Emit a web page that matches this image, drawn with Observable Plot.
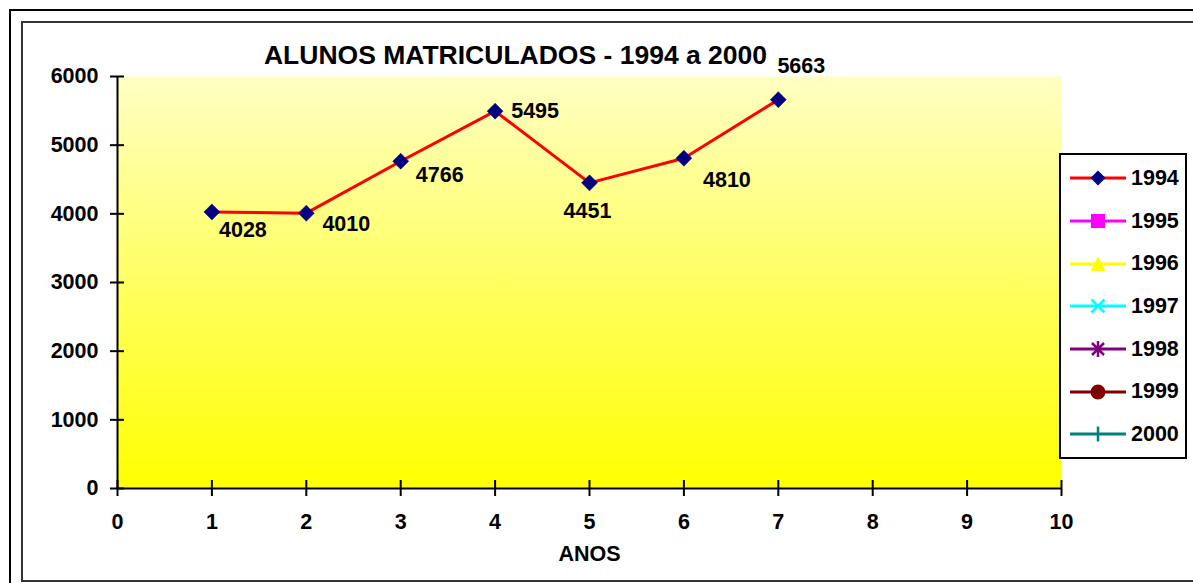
<!DOCTYPE html>
<html><head><meta charset="utf-8">
<script src="https://cdn.jsdelivr.net/npm/d3@7"></script>
<script src="https://cdn.jsdelivr.net/npm/@observablehq/plot@0.6"></script>
<style>
body{margin:0;background:#fff;font-family:"Liberation Sans",Arial,sans-serif;}
#wrap{position:relative;width:1193px;height:583px;overflow:hidden;background:#fff;}
#wrap svg.chart{position:absolute;left:0;top:0;}
.frame-outer{position:absolute;left:9px;top:9px;width:1300px;height:700px;border:2px solid #000;box-sizing:border-box;pointer-events:none;}
.frame-inner{position:absolute;left:21px;top:21px;width:1300px;height:561px;border:2px solid #333;box-sizing:border-box;pointer-events:none;}
.legend{position:absolute;left:1059px;top:153px;width:128px;height:306px;border:2px solid #000;box-sizing:border-box;background:#fff;padding-top:2px;}
.legend .row{height:42.7px;display:flex;align-items:center;padding-left:9px;}
.legend .row span{font-weight:bold;font-size:21.5px;margin-left:5px;color:#000;}
</style></head><body>
<div id="wrap"></div>
<script>
// ---- data ----
const title = "ALUNOS MATRICULADOS - 1994 a 2000";
const xLabel = "ANOS";
const anos = [1, 2, 3, 4, 5, 6, 7];
const matriculados1994 = [4028, 4010, 4766, 5495, 4451, 4810, 5663];
const seriesNames = ["1994", "1995", "1996", "1997", "1998", "1999", "2000"];
const xTicks = [0, 1, 2, 3, 4, 5, 6, 7, 8, 9, 10];
const yTicks = [0, 1000, 2000, 3000, 4000, 5000, 6000];

// ---- layout config (label nudges, px) ----
const labelNudges = [[31, 18], [40, 11], [39, 14], [40, 0], [-2, 28], [43, 22], [23, -34]];

const rows = anos.map((a, i) => ({ano: a, valor: matriculados1994[i]}));
const font = {fontSize: 21.5, fontWeight: "bold", fill: "#000"};

const chart = Plot.plot({
  width: 1193,
  height: 583,
  marginLeft: 117,
  marginRight: 132,
  marginTop: 76,
  marginBottom: 95,
  style: {background: "transparent", fontFamily: "'Liberation Sans', Arial, sans-serif", color: "#000", overflow: "visible"},
  x: {domain: [0, 10]},
  y: {domain: [0, 6000]},
  marks: [
    Plot.frame({fill: "url(#bggrad)", stroke: null}),
    Plot.ruleX([0], {stroke: "#000", strokeWidth: 2}),
    Plot.ruleY([0], {stroke: "#000", strokeWidth: 2}),
    Plot.axisY(yTicks, {tickSize: 14, dx: 7, tickPadding: 12, strokeWidth: 2, fontSize: 21.5, fontWeight: "bold", tickFormat: d => String(d), label: null}),
    Plot.axisX(xTicks, {tickSize: 16, dy: -8, tickPadding: 17, strokeWidth: 2, fontSize: 21.5, fontWeight: "bold", tickFormat: d => String(d), label: null}),
    Plot.line(rows, {x: "ano", y: "valor", stroke: "#ff0000", strokeWidth: 3}),
    Plot.dot(rows, {x: "ano", y: "valor", symbol: "diamond2", r: 7.2, fill: "#000080", stroke: "#000080", strokeWidth: 0.5}),
    ...rows.map((d, i) => Plot.text([d], {x: "ano", y: "valor", text: d => String(d.valor), dx: labelNudges[i][0], dy: labelNudges[i][1], ...font})),
    Plot.text([title], {frameAnchor: "top", dx: -74, dy: -31, fontSize: 26.5, fontWeight: "bold", fill: "#000"}),
    Plot.text([xLabel], {frameAnchor: "bottom", dy: 72, ...font})
  ]
});
chart.classList.add("chart");
chart.insertAdjacentHTML("afterbegin",
  '<defs><linearGradient id="bggrad" x1="0" y1="0" x2="0" y2="1">' +
  '<stop offset="0" stop-color="#ffffc4"/><stop offset="1" stop-color="#ffff00"/></linearGradient></defs>');

const wrap = document.getElementById("wrap");
wrap.appendChild(chart);

// ---- legend ----
const legendStyles = [
  {color: "#ff0000", marker: '<polygon points="28,2.5 35.5,10 28,17.5 20.5,10" fill="#000080"/>'},
  {color: "#ff00ff", marker: '<rect x="21" y="3" width="14" height="14" fill="#ff00ff"/>'},
  {color: "#ffff00", marker: '<polygon points="28,2.5 35.5,17 20.5,17" fill="#ffff00"/>'},
  {color: "#00ffff", marker: '<path d="M21.5,3.5L34.5,16.5M21.5,16.5L34.5,3.5" stroke="#00ffff" stroke-width="2.5"/>'},
  {color: "#800080", marker: '<path d="M22,4L34,16M22,16L34,4M28,2L28,18" stroke="#800080" stroke-width="2.5"/>'},
  {color: "#800000", marker: '<circle cx="28" cy="10" r="7.5" fill="#800000"/>'},
  {color: "#008080", marker: '<path d="M28,2.5L28,17.5" stroke="#008080" stroke-width="2.5"/>'}
];
const legend = document.createElement("div");
legend.className = "legend";
legend.innerHTML = seriesNames.map((name, i) =>
  `<div class="row"><svg width="56" height="20" viewBox="0 0 56 20"><line x1="0" y1="10" x2="56" y2="10" stroke="${legendStyles[i].color}" stroke-width="3"/>${legendStyles[i].marker}</svg><span>${name}</span></div>`
).join("");
wrap.appendChild(legend);

const outer = document.createElement("div"); outer.className = "frame-outer"; wrap.appendChild(outer);
const inner = document.createElement("div"); inner.className = "frame-inner"; wrap.appendChild(inner);
</script>
</body></html>
